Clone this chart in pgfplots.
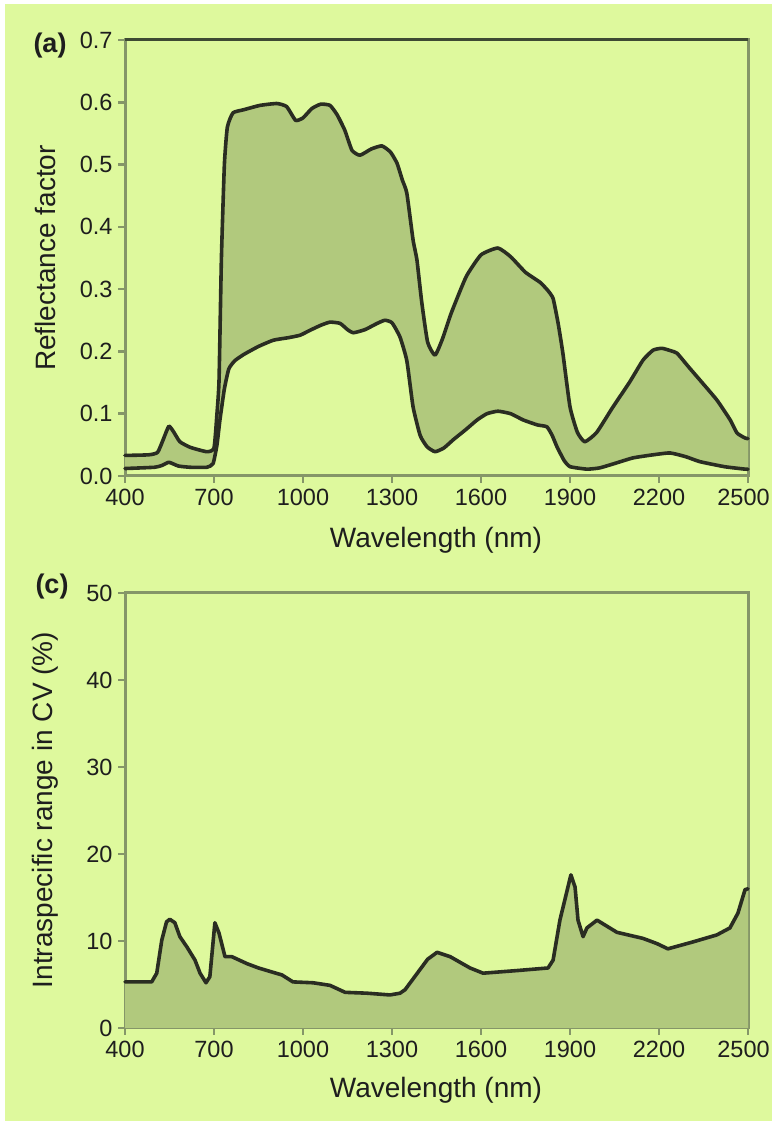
\documentclass[border=0pt]{standalone}
\usepackage{fontspec}
\setmainfont{Liberation Sans}
\usepackage{pgfplots}
\pgfplotsset{compat=1.18}
\definecolor{bg}{HTML}{DEF99D}
\definecolor{fillg}{HTML}{B1C97D}
\definecolor{linec}{HTML}{2A2D22}
\definecolor{axc}{HTML}{859668}
\definecolor{topc}{HTML}{3E4A33}
\definecolor{txt}{HTML}{1E1E1E}
\begin{document}
\begin{tikzpicture}[x=1pt,y=1pt]
\fill[white] (0,0) rectangle (772,1121);
\fill[bg] (5,0) rectangle (772,1117);
\useasboundingbox (0,0) rectangle (772,1121);
\pgfplotsset{myax/.style={
  scale only axis, width=623pt,
  xmin=400, xmax=2500, xtick={400,700,...,2500},
  xticklabels={400,700,1000,1300,1600,1900,2200,\hspace*{-9pt}2500},
  axis line style={draw=axc, line width=3pt},
  tick style={draw=axc, line width=2.5pt},
  major tick length=7pt, tick align=outside,
  xtick pos=lower, ytick pos=left,
  tick label style={font=\fontsize{23.5}{28}\selectfont, text=txt},
  xticklabel style={yshift=-3pt},
  yticklabel style={xshift=-2pt},
  /pgf/number format/assume math mode=true,
  /pgf/number format/set thousands separator={},
  clip=false,
  every axis plot/.append style={smooth, tension=0.3},
}}
% ---------- (a)
\begin{axis}[myax, at={(125pt,645pt)}, anchor=south west, height=436pt,
  ymin=0, ymax=0.7, ytick={0,0.1,0.2,0.3,0.4,0.5,0.6,0.7},
  yticklabel style={/pgf/number format/fixed, /pgf/number format/fixed zerofill, /pgf/number format/precision=1}]
% band: upper forward, lower reversed
\addplot[fill=fillg, draw=none] coordinates {
(400,0.033)(480,0.034)(510,0.038)(530,0.060)(548,0.080)(565,0.070)(585,0.055)(620,0.046)(676,0.039)(700,0.045)(710,0.10)(717,0.154)(725,0.35)(735,0.50)(745,0.56)(764,0.583)(800,0.588)(855,0.595)(912,0.598)(945,0.593)(975,0.571)(1000,0.575)(1030,0.59)(1060,0.597)(1091,0.595)(1115,0.58)(1141,0.555)(1165,0.523)(1192,0.515)(1230,0.525)(1266,0.530)(1295,0.52)(1317,0.502)(1335,0.475)(1350,0.454)(1371,0.379)(1384,0.347)(1400,0.28)(1420,0.215)(1445,0.194)(1470,0.22)(1500,0.262)(1550,0.32)(1600,0.355)(1657,0.366)(1700,0.352)(1750,0.327)(1799,0.311)(1825,0.298)(1843,0.285)(1860,0.245)(1876,0.197)(1900,0.111)(1925,0.07)(1950,0.055)(1990,0.07)(2045,0.111)(2100,0.15)(2146,0.186)(2180,0.202)(2210,0.205)(2240,0.201)(2261,0.197)(2300,0.175)(2338,0.154)(2395,0.122)(2440,0.09)(2463,0.069)(2490,0.061)(2500,0.060)
(2500,0.011)(2490,0.011)(2420,0.015)(2338,0.023)(2290,0.031)(2237,0.037)(2180,0.034)(2112,0.029)(2050,0.02)(2000,0.013)(1957,0.011)(1900,0.015)(1880,0.025)(1856,0.047)(1840,0.065)(1822,0.079)(1790,0.082)(1742,0.09)(1700,0.1)(1657,0.104)(1620,0.1)(1587,0.09)(1550,0.075)(1506,0.058)(1475,0.045)(1445,0.039)(1418,0.047)(1395,0.065)(1371,0.111)(1350,0.185)(1327,0.223)(1300,0.246)(1276,0.25)(1250,0.245)(1209,0.235)(1170,0.23)(1150,0.235)(1125,0.245)(1091,0.247)(1060,0.242)(1024,0.234)(990,0.226)(950,0.222)(900,0.218)(850,0.208)(800,0.195)(770,0.185)(750,0.172)(735,0.14)(720,0.09)(710,0.05)(697,0.02)(676,0.014)(620,0.014)(580,0.016)(548,0.022)(525,0.017)(500,0.014)(400,0.012)} -- cycle;
\addplot[draw=linec, line width=3.6pt, line join=round, line cap=round] coordinates {
(400,0.033)(480,0.034)(510,0.038)(530,0.060)(548,0.080)(565,0.070)(585,0.055)(620,0.046)(676,0.039)(700,0.045)(710,0.10)(717,0.154)(725,0.35)(735,0.50)(745,0.56)(764,0.583)(800,0.588)(855,0.595)(912,0.598)(945,0.593)(975,0.571)(1000,0.575)(1030,0.59)(1060,0.597)(1091,0.595)(1115,0.58)(1141,0.555)(1165,0.523)(1192,0.515)(1230,0.525)(1266,0.530)(1295,0.52)(1317,0.502)(1335,0.475)(1350,0.454)(1371,0.379)(1384,0.347)(1400,0.28)(1420,0.215)(1445,0.194)(1470,0.22)(1500,0.262)(1550,0.32)(1600,0.355)(1657,0.366)(1700,0.352)(1750,0.327)(1799,0.311)(1825,0.298)(1843,0.285)(1860,0.245)(1876,0.197)(1900,0.111)(1925,0.07)(1950,0.055)(1990,0.07)(2045,0.111)(2100,0.15)(2146,0.186)(2180,0.202)(2210,0.205)(2240,0.201)(2261,0.197)(2300,0.175)(2338,0.154)(2395,0.122)(2440,0.09)(2463,0.069)(2490,0.061)(2500,0.060)};
\addplot[draw=linec, line width=3.6pt, line join=round, line cap=round] coordinates {
(400,0.012)(500,0.014)(525,0.017)(548,0.022)(580,0.016)(620,0.014)(676,0.014)(697,0.02)(710,0.05)(720,0.09)(735,0.14)(750,0.172)(770,0.185)(800,0.195)(850,0.208)(900,0.218)(950,0.222)(990,0.226)(1024,0.234)(1060,0.242)(1091,0.247)(1125,0.245)(1150,0.235)(1170,0.23)(1209,0.235)(1250,0.245)(1276,0.25)(1300,0.246)(1327,0.223)(1350,0.185)(1371,0.111)(1395,0.065)(1418,0.047)(1445,0.039)(1475,0.045)(1506,0.058)(1550,0.075)(1587,0.09)(1620,0.1)(1657,0.104)(1700,0.1)(1742,0.09)(1790,0.082)(1822,0.079)(1840,0.065)(1856,0.047)(1880,0.025)(1900,0.015)(1957,0.011)(2000,0.013)(2050,0.02)(2112,0.029)(2180,0.034)(2237,0.037)(2290,0.031)(2338,0.023)(2420,0.015)(2490,0.011)(2500,0.011)};
\draw[topc, line width=3pt] (rel axis cs:0,1) -- (rel axis cs:1,1);
\end{axis}
% ---------- (c)
\begin{axis}[myax, at={(125pt,93pt)}, anchor=south west, height=435pt,
  ymin=0, ymax=50, ytick={0,10,20,30,40,50}]
\addplot[fill=fillg, draw=none, sharp plot] coordinates {
(400,5.3)(490,5.3)(507,6.3)(524,10.1)(540,12.2)(551,12.5)(568,12.1)(585,10.5)(609,9.3)(636,7.8)(653,6.3)(673,5.2)(686,5.9)(703,12.1)(717,10.9)(737,8.2)(760,8.2)(811,7.4)(850,6.9)(899,6.4)(929,6.1)(966,5.3)(1034,5.2)(1091,4.9)(1142,4.1)(1216,4.0)(1293,3.8)(1327,4.0)(1344,4.4)(1394,6.7)(1420,7.9)(1452,8.7)(1496,8.2)(1563,6.9)(1607,6.3)(1721,6.6)(1826,6.9)(1843,7.8)(1866,12.4)(1903,17.6)(1917,16.2)(1927,12.4)(1944,10.5)(1957,11.5)(1991,12.4)(2058,11.0)(2146,10.3)(2193,9.7)(2230,9.1)(2315,9.9)(2395,10.7)(2439,11.5)(2466,13.2)(2490,15.9)(2500,16.0)(2500,0)(400,0)} -- cycle;
\addplot[draw=linec, line width=3.6pt, line join=round, line cap=round, sharp plot] coordinates {
(400,5.3)(490,5.3)(507,6.3)(524,10.1)(540,12.2)(551,12.5)(568,12.1)(585,10.5)(609,9.3)(636,7.8)(653,6.3)(673,5.2)(686,5.9)(703,12.1)(717,10.9)(737,8.2)(760,8.2)(811,7.4)(850,6.9)(899,6.4)(929,6.1)(966,5.3)(1034,5.2)(1091,4.9)(1142,4.1)(1216,4.0)(1293,3.8)(1327,4.0)(1344,4.4)(1394,6.7)(1420,7.9)(1452,8.7)(1496,8.2)(1563,6.9)(1607,6.3)(1721,6.6)(1826,6.9)(1843,7.8)(1866,12.4)(1903,17.6)(1917,16.2)(1927,12.4)(1944,10.5)(1957,11.5)(1991,12.4)(2058,11.0)(2146,10.3)(2193,9.7)(2230,9.1)(2315,9.9)(2395,10.7)(2439,11.5)(2466,13.2)(2490,15.9)(2500,16.0)};
\end{axis}
% ---------- labels
\node[font=\fontsize{27}{30}\selectfont\bfseries, text=txt] at (50,1075) {(a)};
\node[font=\fontsize{27}{30}\selectfont\bfseries, text=txt] at (52,534) {(c)};
\node[font=\fontsize{28}{32}\selectfont, text=txt, rotate=90] at (45,863) {Reflectance factor};
\node[font=\fontsize{28}{32}\selectfont, text=txt] at (436,581) {Wavelength (nm)};
\node[font=\fontsize{28}{32}\selectfont, text=txt, rotate=90] at (45,311) {Intraspecific range in CV (\%)};
\node[font=\fontsize{28}{32}\selectfont, text=txt] at (436,31) {Wavelength (nm)};
\end{tikzpicture}
\end{document}
